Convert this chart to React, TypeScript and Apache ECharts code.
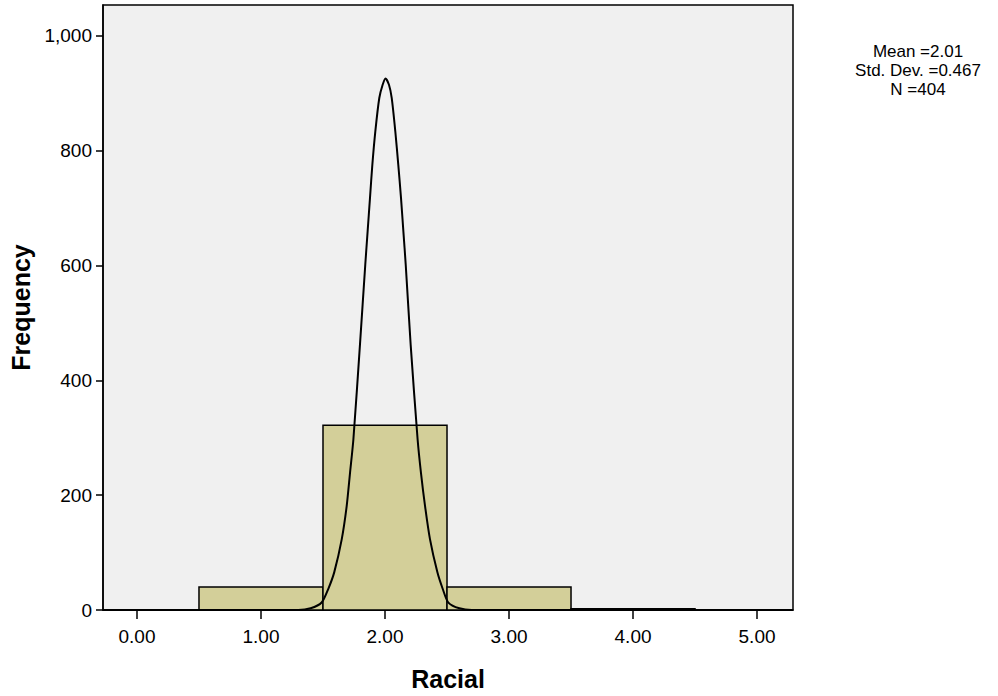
import React, { useEffect, useRef } from "react";
import * as echarts from "echarts";

const binStarts = [0.5, 1.5, 2.5, 3.5];
const binEnds = [1.5, 2.5, 3.5, 4.5];
const frequencies = [40, 322, 40, 2];

const curveX = [-0.274, 1.3, 1.4, 1.489, 1.543, 1.591, 1.651, 1.691, 1.718, 1.745, 1.798, 1.841, 1.86, 1.879, 1.898, 1.922, 1.954, 1.981, 2.004, 2.032, 2.054, 2.083, 2.107, 2.129, 2.148, 2.167, 2.207, 2.263, 2.29, 2.323, 2.363, 2.422, 2.465, 2.511, 2.6, 2.7, 5.29];
const curveY = [0, 0, 3, 13, 37, 66, 123, 181, 239, 297, 462, 602, 660, 718, 776, 834, 892, 915, 926, 915, 892, 834, 776, 718, 660, 602, 462, 297, 239, 181, 123, 66, 37, 13, 3, 0, 0];

const xTicks = [0, 1, 2, 3, 4, 5];
const yTicks = [0, 200, 400, 600, 800, 1000];
const statsLines = ["Mean =2.01", "Std. Dev. =0.467", "N =404"];

const FONT = "'Liberation Sans', Arial, sans-serif";

export default function App() {
  const ref = useRef<HTMLDivElement>(null);
  useEffect(() => {
    if (!ref.current) return;
    const chart = echarts.init(ref.current, null, { renderer: "svg" });
    const bars = binStarts.map((s, i) => [s, binEnds[i], frequencies[i]]);
    const curve = curveX.map((x, i) => [x, curveY[i]]);
    chart.setOption({
      animation: false,
      backgroundColor: "#ffffff",
      textStyle: { fontFamily: FONT },
      grid: {
        left: 103,
        top: 5,
        right: 205,
        bottom: 85,
        show: true,
        backgroundColor: "#F0F0F0",
        borderColor: "#000000",
        borderWidth: 1.5,
      },
      xAxis: {
        type: "value",
        min: -0.274,
        max: 5.29,
        name: "Racial",
        nameLocation: "middle",
        nameGap: 56,
        nameTextStyle: { fontFamily: FONT, fontSize: 25, fontWeight: "bold", color: "#000" },
        axisLine: { show: true, onZero: false, lineStyle: { color: "#000", width: 1.5 } },
        axisTick: { show: true, length: 9, customValues: xTicks, lineStyle: { color: "#000", width: 1.5 } },
        axisLabel: {
          customValues: xTicks,
          margin: 17,
          fontFamily: FONT,
          fontSize: 19,
          color: "#000",
          formatter: (v: number) => v.toFixed(2),
        },
        splitLine: { show: false },
      },
      yAxis: {
        type: "value",
        min: 0,
        max: 1054,
        name: "Frequency",
        nameLocation: "middle",
        nameGap: 70,
        nameTextStyle: { fontFamily: FONT, fontSize: 25, fontWeight: "bold", color: "#000" },
        axisLine: { show: true, onZero: false, lineStyle: { color: "#000", width: 1.5 } },
        axisTick: { show: true, length: 7, customValues: yTicks, lineStyle: { color: "#000", width: 1.5 } },
        axisLabel: {
          customValues: yTicks,
          margin: 11,
          fontFamily: FONT,
          fontSize: 19,
          color: "#000",
          formatter: (v: number) => v.toLocaleString("en-US"),
        },
        splitLine: { show: false },
      },
      graphic: statsLines.map((t, i) => ({
        type: "text",
        x: 918,
        y: 51 + i * 19,
        style: {
          text: t,
          fontFamily: FONT,
          fontSize: 17,
          fill: "#000",
          textAlign: "center",
          textVerticalAlign: "middle",
        },
      })),
      series: [
        {
          type: "custom",
          data: bars,
          encode: { x: [0, 1], y: 2 },
          renderItem: (params: any, api: any) => {
            const p0 = api.coord([api.value(0), api.value(2)]);
            const p1 = api.coord([api.value(1), 0]);
            return {
              type: "rect",
              shape: { x: p0[0], y: p0[1], width: p1[0] - p0[0], height: p1[1] - p0[1] },
              style: { fill: "#D3CF99", stroke: "#000", lineWidth: 1.5 },
            };
          },
          z: 2,
        },
        {
          type: "line",
          data: curve,
          showSymbol: false,
          symbol: "none",
          smooth: 0.25,
          lineStyle: { color: "#000", width: 2 },
          z: 3,
        },
      ],
    });
    return () => chart.dispose();
  }, []);
  return (
    <div
      ref={ref}
      style={{ position: "absolute", left: 0, top: 0, width: 998, height: 696 }}
    />
  );
}
